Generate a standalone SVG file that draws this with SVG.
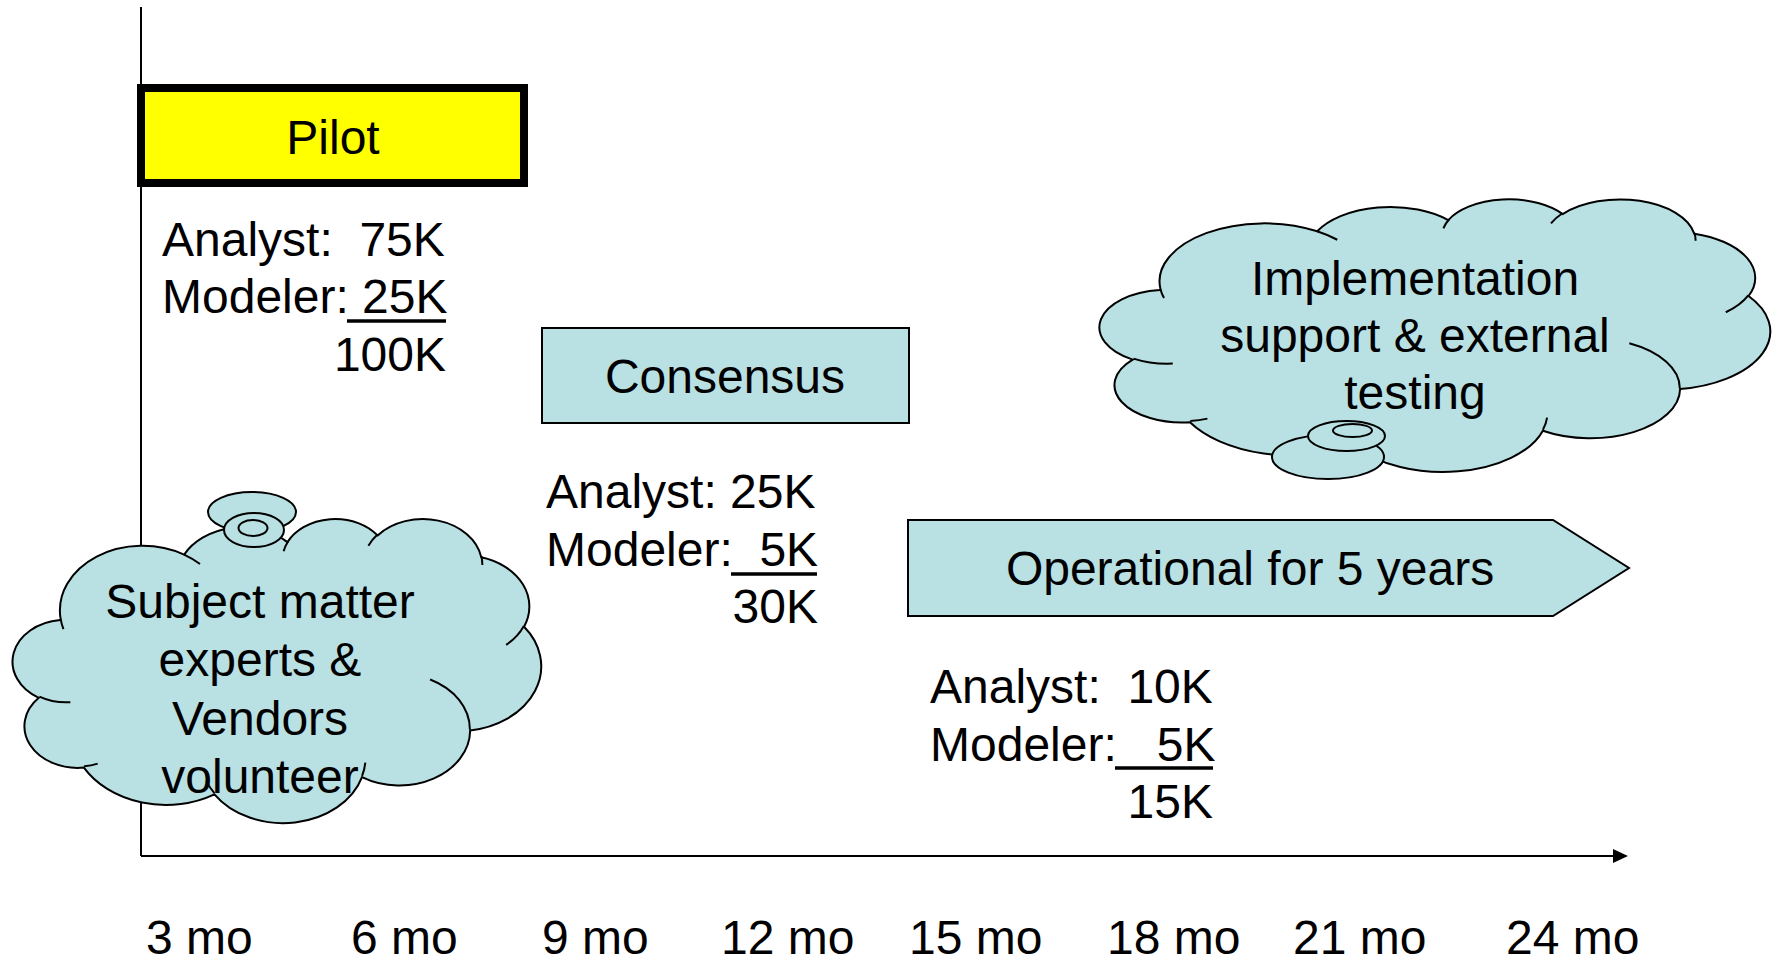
<svg xmlns="http://www.w3.org/2000/svg" xmlns:xlink="http://www.w3.org/1999/xlink" width="1772" height="964" viewBox="0 0 1772 964">
<style>
text{font-family:"Liberation Sans",Arial,sans-serif;font-size:48px;fill:#000}
.c{text-anchor:middle}
.e{text-anchor:end}
.shape{fill:#B9E0E3;stroke:#000;stroke-width:2}
.stub{fill:none;stroke:#000;stroke-width:2}
.ul{stroke:#000;stroke-width:3.5}
.axis{stroke:#000;stroke-width:2;fill:none}
</style>
<defs>
<path id="cloudBody" vector-effect="non-scaling-stroke" d="M3900 14370A6753 9190 0 0 1 14004.8 5202A5333 7267 0 0 1 22455.4 3428.5A4365 5945 0 0 1 29831.7 2475.8A4857 6595 0 0 1 38316.1 5572.3A5333 7273 0 0 1 41816.7 15456.2A6775 9220 0 0 1 37403.3 30200.4A5785 7867 0 0 1 28554.8 36810.5A6752 9215 0 0 1 16479.5 39263.1A7720 10543 0 0 1 5802.3 35467.3A4360 5918 0 0 1 2109.3 25548.4A4345 5945 0 0 1 3859.7 14505.2Z"/>
<path id="cloudStubs" vector-effect="non-scaling-stroke" d="M4693 26177A4345 5945 0 0 1 2159.5 25379.6M6928 34899A4360 5918 0 0 1 5819.4 35280.5M16478 39090A6752 9215 0 0 1 15809.9 37348.8M28827 34751A6752 9215 0 0 1 28560.5 36659.4M34129 22954A5785 7867 0 0 1 37380.9 30089.9M41798 15354A5333 7273 0 0 1 40349.1 18030.9M38324 5426A4857 6595 0 0 1 38400.4 6689.6M29078 3952A4857 6595 0 0 1 29820.8 2338.1M22141 4720A4365 5945 0 0 1 22500.2 3330.1M14000 5192A6753 9190 0 0 1 15298.8 6538.8M4127 15789A6753 9190 0 0 1 3900.4 14370.8"/>
</defs>

<g id="connectors">
<line class="axis" x1="141" y1="7" x2="141" y2="856"/>
<line class="axis" x1="141" y1="856" x2="1614" y2="856"/>
<polygon points="1613,849 1628,856 1613,863" fill="#000"/>
</g>

<g id="pilot">
<rect x="141" y="88" width="383" height="95" fill="#FFFF00" stroke="#000" stroke-width="8"/>
<text class="c" x="333" y="154">Pilot</text>
</g>

<g id="pilot-cost">
<text x="162" y="256" xml:space="preserve">Analyst:  75K</text>
<text x="162" y="313" xml:space="preserve">Modeler: 25K</text>
<line class="ul" x1="347" y1="321" x2="446" y2="321"/>
<text class="e" x="446" y="371">100K</text>
</g>

<g id="consensus">
<rect class="shape" x="542" y="328" width="367" height="95"/>
<text class="c" x="725" y="393">Consensus</text>
</g>

<g id="consensus-cost">
<text x="546" y="508" xml:space="preserve">Analyst: 25K</text>
<text x="546" y="566" xml:space="preserve">Modeler:  5K</text>
<line class="ul" x1="731" y1="574" x2="817" y2="574"/>
<text class="e" x="818" y="623">30K</text>
</g>

<g id="operational">
<polygon class="shape" points="908,520 1553,520 1629,568 1553,616 908,616"/>
<text class="c" x="1250" y="585">Operational for 5 years</text>
</g>

<g id="operational-cost">
<text x="930" y="703" xml:space="preserve">Analyst:  10K</text>
<text x="930" y="761" xml:space="preserve">Modeler:   5K</text>
<line class="ul" x1="1115" y1="768" x2="1213" y2="768"/>
<text class="e" x="1213" y="818">15K</text>
</g>

<g id="cloud-sme">
<g transform="translate(13,518) scale(0.0122222,0.0070370)">
<use xlink:href="#cloudBody" class="shape"/>
</g>
<ellipse class="shape" cx="252" cy="512" rx="44" ry="20"/>
<ellipse class="shape" cx="254" cy="530" rx="30" ry="17"/>
<ellipse class="shape" cx="253" cy="528" rx="14.5" ry="8"/>
<text class="c" x="260" y="618">Subject matter</text>
<text class="c" x="260" y="676">experts &amp;</text>
<text class="c" x="260" y="735">Vendors</text>
<text class="c" x="260" y="793">volunteer</text>
<g transform="translate(13,518) scale(0.0122222,0.0070370)">
<use xlink:href="#cloudStubs" class="stub"/>
</g>
</g>

<g id="cloud-impl">
<g transform="translate(1100,198.5) scale(0.0155093,0.0063079)">
<use xlink:href="#cloudBody" class="shape"/>
<use xlink:href="#cloudStubs" class="stub"/>
</g>
<ellipse class="shape" cx="1328" cy="457" rx="56" ry="22"/>
<ellipse class="shape" cx="1346.5" cy="436" rx="38.5" ry="15"/>
<ellipse class="shape" cx="1352.5" cy="430.5" rx="19.5" ry="6.5"/>
<text class="c" x="1415" y="295">Implementation</text>
<text class="c" x="1415" y="352">support &amp; external</text>
<text class="c" x="1415" y="409">testing</text>
</g>

<g id="timeline-labels">
<text x="146" y="954">3 mo</text>
<text x="351" y="954">6 mo</text>
<text x="542" y="954">9 mo</text>
<text x="721" y="954">12 mo</text>
<text x="909" y="954">15 mo</text>
<text x="1107" y="954">18 mo</text>
<text x="1293" y="954">21 mo</text>
<text x="1506" y="954">24 mo</text>
</g>
</svg>
